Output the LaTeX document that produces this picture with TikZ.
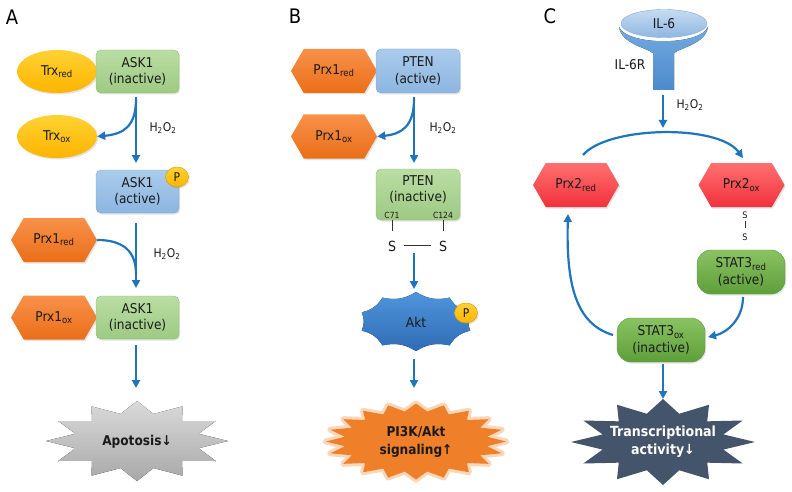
\documentclass[tikz,border=0pt]{standalone}
\usepackage{fontspec}
\setmainfont{DejaVu Sans Condensed}
\usetikzlibrary{arrows.meta,shapes.geometric,shapes.symbols,shadows}
\definecolor{arrowblue}{HTML}{1F74BE}
\definecolor{gTop}{HTML}{BADDA3}
\definecolor{gBot}{HTML}{9DCA83}
\definecolor{gDraw}{HTML}{8BBF6E}
\definecolor{bTop}{HTML}{AACCEC}
\definecolor{bBot}{HTML}{8CB5E0}
\definecolor{bDraw}{HTML}{7EA8D6}
\definecolor{yTop}{HTML}{FFD233}
\definecolor{yBot}{HTML}{FDB400}
\definecolor{oTop}{HTML}{F8914A}
\definecolor{oBot}{HTML}{EA6E18}
\definecolor{rTop}{HTML}{FF7070}
\definecolor{rBot}{HTML}{F2313C}
\definecolor{sTop}{HTML}{8AC262}
\definecolor{sBot}{HTML}{5E9F3A}
\definecolor{sDraw}{HTML}{5A9A38}
\definecolor{aTop}{HTML}{5095DC}
\definecolor{aBot}{HTML}{2E6CB6}
\definecolor{ilTop}{HTML}{C6DCF1}
\definecolor{ilBot}{HTML}{8FB6E2}
\definecolor{ilDraw}{HTML}{7FA8D8}
\definecolor{rcTop}{HTML}{73AAE0}
\definecolor{rcBot}{HTML}{4C8ACB}
\definecolor{greyTop}{HTML}{DADADA}
\definecolor{greyBot}{HTML}{A8A8A8}
\definecolor{pikOr}{HTML}{F07F2A}
\definecolor{pikGlow}{HTML}{F8A868}
\definecolor{slate}{HTML}{44546A}
\definecolor{txt}{HTML}{1A1A1A}
\tikzset{
  fnt/.style={font=\fontsize{13.5}{16.5}\selectfont},
  shad/.style={drop shadow={shadow xshift=1.2pt, shadow yshift=-1.5pt, opacity=0.22}},
  box/.style={fnt, shad, rounded corners=5pt, minimum width=83pt, minimum height=43pt, align=center, inner sep=1pt, text=txt},
  greenbox/.style={box, draw=gDraw, top color=gTop, bottom color=gBot},
  bluebox/.style={box, draw=bDraw, top color=bTop, bottom color=bBot},
  statbox/.style={box, rounded corners=14pt, minimum width=88pt, minimum height=44pt, draw=sDraw, top color=sTop, bottom color=sBot},
  yell/.style={fnt, shad, ellipse, minimum width=80pt, minimum height=43pt, inner sep=0pt, top color=yTop, bottom color=yBot, text=txt},
  hexa/.style={fnt, shad, signal, signal to=west and east, signal pointer angle=120, minimum width=86pt, minimum height=44pt, inner sep=0pt, text=txt},
  orhex/.style={hexa, top color=oTop, bottom color=oBot},
  redhex/.style={hexa, top color=rTop, bottom color=rBot},
  pcirc/.style={ellipse, shad, minimum width=23pt, minimum height=20pt, inner sep=0pt, top color=yTop, bottom color=yBot, draw=yBot!85!black, font=\fontsize{12}{12}\selectfont, text=txt},
  arr/.style={draw=arrowblue, line width=2.2pt, -{Triangle[length=8pt,width=8pt]}},
  arrl/.style={draw=arrowblue, line width=2.2pt},
  hlab/.style={font=\fontsize{12}{14}\selectfont, text=txt},
  panel/.style={font=\fontsize{20}{22}\selectfont, text=black},
  tick/.style={draw=black!80, line width=1pt},
}
\begin{document}
\begin{tikzpicture}[x=1pt,y=-1pt]
\path[use as bounding box, fill=white] (0,0) rectangle (792,492);

% ---------------- Panel A ----------------
\node[panel] (labA) at (12,17) {A};
\node[yell] (trxr) at (57,71.5) {Trx\textsubscript{red}};
\node[greenbox] (ask1) at (137.5,71.5) {ASK1\\(inactive)};
\node[yell] (trxo) at (57,136.5) {Trx\textsubscript{ox}};
\coordinate (a1s) at (136,97);
\coordinate (a1b) at (136,99);
\coordinate (a1e) at (136,163);
\draw[arr] (a1s) -- (a1e);
\draw[arr] (a1b) .. controls (136,126) and (124,134) .. (trxo.east);
\node[hlab] (h1) at (163,128) {H\textsubscript{2}O\textsubscript{2}};
\node[bluebox] (ask2) at (137.5,191.5) {ASK1\\(active)};
\node[pcirc] (p1) at (177,177) {P};
\node[orhex] (prx1r) at (54,240) {Prx1\textsubscript{red}};
\coordinate (a2s) at (136,223);
\coordinate (a2m) at (136,274);
\coordinate (a2e) at (136,288);
\draw[arr] (a2s) -- (a2e);
\draw[arrl] (prx1r.east) .. controls (124,240) and (136,252) .. (a2m);
\node[hlab] (h2) at (167,254) {H\textsubscript{2}O\textsubscript{2}};
\node[orhex] (prx1o) at (54,317.5) {Prx1\textsubscript{ox}};
\node[greenbox] (ask3) at (137.5,317.5) {ASK1\\(inactive)};
\coordinate (a3s) at (136,345);
\coordinate (a3e) at (136,388);
\draw[arr] (a3s) -- (a3e);
\fill[top color=greyTop, bottom color=greyBot] plot[variable=\t, samples at={0,...,23}] ({137+91*(1-0.3*mod(\t,2))*sin(\t*15)}, {441-40*(1-0.3*mod(\t,2))*cos(\t*15)}) -- cycle;
\node[font=\bfseries\fontsize{13.5}{16}\selectfont, text=txt] (apo) at (137,442) {Apotosis↓};

% ---------------- Panel B ----------------
\node[panel] (labB) at (295,16) {B};
\node[orhex] (bprxr) at (334,71) {Prx1\textsubscript{red}};
\node[bluebox, minimum width=84pt, minimum height=44pt] (pten1) at (418,71) {PTEN\\(active)};
\node[orhex] (bprxo) at (334,136.5) {Prx1\textsubscript{ox}};
\coordinate (b1s) at (414,97);
\coordinate (b1b) at (414,99);
\coordinate (b1e) at (414,163);
\draw[arr] (b1s) -- (b1e);
\draw[arr] (b1b) .. controls (414,126) and (402,134) .. (bprxo.east);
\node[hlab] (h3) at (443,128) {H\textsubscript{2}O\textsubscript{2}};
\node[greenbox, minimum width=84pt, minimum height=51pt] (pten2) at (418,194.5) {};
\node[fnt, align=center, text=txt] (pten2t) at (418,189.5) {PTEN\\(inactive)};
\node[font=\fontsize{8.5}{9}\selectfont, text=txt, inner sep=0pt] (c71) at (392,215.5) {C71};
\node[font=\fontsize{8.5}{9}\selectfont, text=txt, inner sep=0pt] (c124) at (443,215.5) {C124};
\node[font=\fontsize{14}{14}\selectfont, text=txt, inner sep=0pt] (s1) at (392,246) {S};
\node[font=\fontsize{14}{14}\selectfont, text=txt, inner sep=0pt] (s2) at (443,246) {S};
\draw[tick] (c71.south) ++(0,1.5) -- ++(0,10.5);
\draw[tick] (c124.south) ++(0,1.5) -- ++(0,10.5);
\draw[tick] (s1.east) ++(8,-1) -- ++(27,0);
\coordinate (b2s) at (414,253);
\coordinate (b2e) at (414,289);
\draw[arr] (b2s) -- (b2e);
\fill[top color=aTop, bottom color=aBot] ({416},{292}) \foreach \i in {1,...,10} { to[bend right=22] ({416+57*sin(\i*36)},{321.5-29.5*cos(\i*36)}) } -- cycle;
\node[fnt, text=txt] (akt) at (416,322) {Akt};
\node[pcirc] (p2) at (466,313) {P};
\coordinate (b3s) at (414,359);
\coordinate (b3e) at (414,388);
\draw[arr] (b3s) -- (b3e);
\draw[pikGlow, line width=6pt, line join=round, opacity=0.45] plot[variable=\t, samples at={0,...,39}] ({416+90*(1-0.2*mod(\t,2))*sin(\t*9)}, {441.5-38*(1-0.2*mod(\t,2))*cos(\t*9)}) -- cycle;
\fill[pikOr] plot[variable=\t, samples at={0,...,39}] ({416+90*(1-0.2*mod(\t,2))*sin(\t*9)}, {441.5-38*(1-0.2*mod(\t,2))*cos(\t*9)}) -- cycle;
\node[font=\bfseries\fontsize{13.5}{18}\selectfont, text=txt, align=center] (pik) at (416,442) {PI3K/Akt\\signaling↑};

% ---------------- Panel C ----------------
\node[panel] (labC) at (550,16) {C};
\fill[top color=rcTop, bottom color=rcBot] (619,27) .. controls (622,44) and (645,47) .. (653,53) -- (653,90) -- (674,90) -- (674,53) .. controls (682,47) and (705,44) .. (708,27) .. controls (700,46) and (627,46) .. (619,27) -- cycle;
\node[ellipse, draw=ilDraw, top color=ilTop, bottom color=ilBot, minimum width=86pt, minimum height=28pt, inner sep=0pt, fnt, text=txt] (il6) at (664,23.5) {IL-6};
\node[fnt, text=txt] (il6r) at (630,65) {IL-6R};
\coordinate (c1s) at (663,95);
\coordinate (c1e) at (663,128);
\draw[arr] (c1s) -- (c1e);
\node[hlab] (h4) at (690,105) {H\textsubscript{2}O\textsubscript{2}};
\node[redhex] (prx2r) at (576,185) {Prx2\textsubscript{red}};
\node[redhex] (prx2o) at (741.5,185) {Prx2\textsubscript{ox}};
\coordinate (c2s) at (583,155);
\coordinate (c2e) at (743,158);
\draw[arr] (c2s) .. controls (608,126) and (718,124) .. (c2e);
\node[font=\fontsize{9}{9}\selectfont, text=txt, inner sep=0pt] (s3) at (745,215) {S};
\node[font=\fontsize{9}{9}\selectfont, text=txt, inner sep=0pt] (s4) at (745,237) {S};
\draw[draw=black!80, line width=0.8pt] (s3.south) ++(0,2) -- ++(0,7);
\node[statbox] (statr) at (741,272) {STAT3\textsubscript{red}\\(active)};
\node[statbox] (stato) at (661,340) {STAT3\textsubscript{ox}\\(inactive)};
\coordinate (c3s) at (743,297);
\coordinate (c3e) at (708,337);
\draw[arr] (c3s) .. controls (743,320) and (726,333) .. (c3e);
\coordinate (c4s) at (613,335);
\coordinate (c4e) at (568,214);
\draw[arr] (c4s) .. controls (576,324) and (566,285) .. (c4e);
\coordinate (c5s) at (663,364);
\coordinate (c5e) at (663,399);
\draw[arr] (c5s) -- (c5e);
\fill[slate] plot[variable=\t, samples at={0,...,23}] ({663+92*(1-0.32*mod(\t,2))*sin(\t*15)}, {442-43*(1-0.32*mod(\t,2))*cos(\t*15)}) -- cycle;
\node[font=\bfseries\fontsize{14}{18}\selectfont, text=white, align=center] (trans) at (663,442) {Transcriptional\\activity↓};
\end{tikzpicture}
\end{document}
